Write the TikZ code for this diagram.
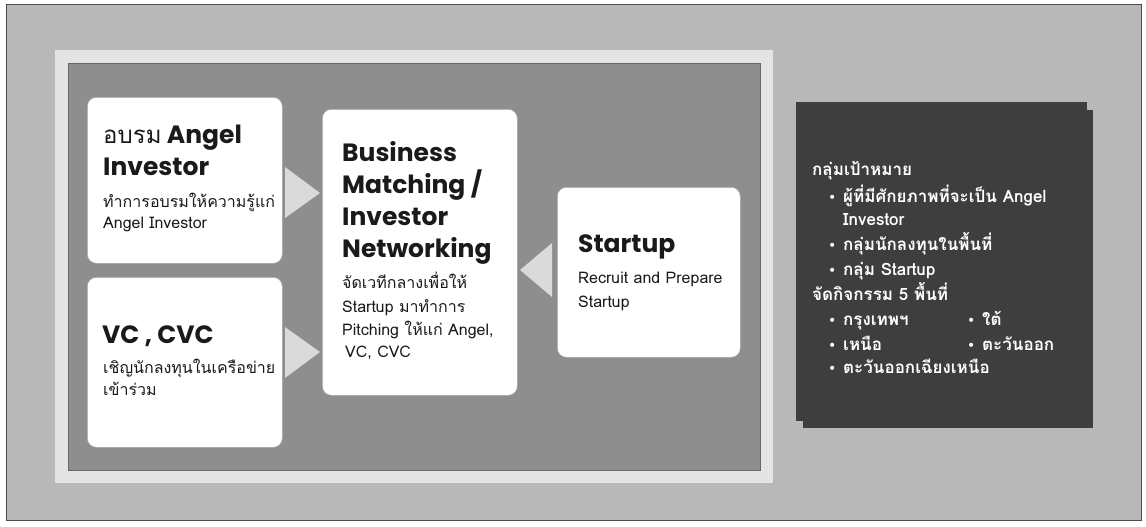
\documentclass[tikz,border=0pt]{standalone}
\usepackage{fontspec}
\newfontfamily\headfont{Poppins}
\newfontfamily\thfont[Script=Thai]{Loma}
\newfontfamily\dvfont{DejaVu Sans}
\definecolor{bggray}{HTML}{B8B8B8}
\definecolor{bandgray}{HTML}{E4E4E4}
\definecolor{innergray}{HTML}{8E8E8E}
\definecolor{darkbox}{HTML}{3E3E3E}
\definecolor{tricol}{HTML}{DADADA}
\definecolor{inkcol}{HTML}{1A1A1A}
\begin{document}
\begin{tikzpicture}[x=1pt,y=-1pt,
  wbox/.style={draw=black!35, line width=0.6pt, fill=white, rounded corners=9pt, inner sep=0pt, anchor=north west},
  head/.style={inner sep=0pt, anchor=base west, text=inkcol, font=\headfont\bfseries\fontsize{25}{30}\selectfont},
  body/.style={inner sep=0pt, anchor=base west, text=inkcol, font=\thfont\fontsize{16}{19}\selectfont},
  dtxt/.style={inner sep=0pt, anchor=base west, text=white, font=\thfont\bfseries\fontsize{17}{20}\selectfont},
  bul/.style={inner sep=0pt, anchor=base west, text=white, font=\dvfont\fontsize{14}{16}\selectfont},
  tri/.style={fill=tricol}]
\useasboundingbox (0,0) rectangle (1146,527);
\fill[white] (0,0) rectangle (1146,527);
\draw[fill=bggray, draw=black!70, line width=1pt] (6,5) rectangle (1141,520);
% frame
\fill[bandgray] (55,50) rectangle (773,483);
\draw[fill=innergray, draw=black!60, line width=0.8pt] (68,63) rectangle (760,470);
% dark box with offset shadow
\fill[darkbox] (803,110) rectangle (1093,428);
\fill[darkbox] (796,102) rectangle (1087,421);
% white boxes
\node[wbox, minimum width=195pt, minimum height=166pt] (b1) at (87,97) {};
\node[wbox, minimum width=195pt, minimum height=170pt] (b2) at (87,277) {};
\node[wbox, minimum width=195pt, minimum height=286pt] (b3) at (322,109) {};
\node[wbox, minimum width=183pt, minimum height=170pt] (b4) at (557,187) {};
% arrows (triangles between boxes)
\coordinate (t1) at (320,193);
\coordinate (t2) at (320,352);
\coordinate (t3) at (520,270);
\fill[tri] (285,167) -- (285,218) -- (t1) -- cycle;
\fill[tri] (285,327) -- (285,378) -- (t2) -- cycle;
\fill[tri] (552,243) -- (552,297) -- (t3) -- cycle;
% box 1 text
\node[head] (h1a) at (103,143) {{\thfont\mdseries\fontsize{24}{28}\selectfont อบรม} Angel};
\node[head] (h1b) at (103,175) {Investor};
\node[body] (s1a) at (103,207) {ทำการอบรมให้ความรู้แก่};
\node[body] (s1b) at (103,228) {Angel Investor};
% box 2 text
\node[head] (h2a) at (102,343) {VC , CVC};
\node[body] (s2a) at (103,373) {เชิญนักลงทุนในเครือข่าย};
\node[body] (s2b) at (103,395) {เข้าร่วม};
% box 3 text
\node[head] (h3a) at (342,161) {Business};
\node[head] (h3b) at (342,193) {Matching /};
\node[head] (h3c) at (342,225) {Investor};
\node[head] (h3d) at (342,257) {Networking};
\node[body] (s3a) at (342,288) {จัดเวทีกลางเพื่อให้};
\node[body] (s3b) at (342,312) {Startup มาทำการ};
\node[body] (s3c) at (342,335) {Pitching ให้แก่ Angel,};
\node[body] (s3d) at (345,357) {VC, CVC};
% box 4 text
\node[head] (h4a) at (578,252) {Startup};
\node[body] (s4a) at (578,283) {Recruit and Prepare};
\node[body] (s4b) at (578,307) {Startup};
% dark box text
\node[dtxt] (d1) at (812,175) {กลุ่มเป้าหมาย};
\node[bul] (p1) at (828,202) {•};
\node[dtxt] (d2) at (843,202) {ผู้ที่มีศักยภาพที่จะเป็น Angel};
\node[dtxt] (d3) at (843,225) {Investor};
\node[bul] (p2) at (828,250) {•};
\node[dtxt] (d4) at (843,250) {กลุ่มนักลงทุนในพื้นที่};
\node[bul] (p3) at (828,275) {•};
\node[dtxt] (d5) at (843,275) {กลุ่ม Startup};
\node[dtxt] (d6) at (812,300) {จัดกิจกรรม 5 พื้นที่};
\node[bul] (p4) at (828,325) {•};
\node[dtxt] (d7) at (843,325) {กรุงเทพฯ};
\node[bul] (p5) at (967,325) {•};
\node[dtxt] (d8) at (982,325) {ใต้};
\node[bul] (p6) at (828,350) {•};
\node[dtxt] (d9) at (843,350) {เหนือ};
\node[bul] (p7) at (967,350) {•};
\node[dtxt] (d10) at (982,350) {ตะวันออก};
\node[bul] (p8) at (828,373) {•};
\node[dtxt] (d11) at (843,373) {ตะวันออกเฉียงเหนือ};
\end{tikzpicture}
\end{document}
